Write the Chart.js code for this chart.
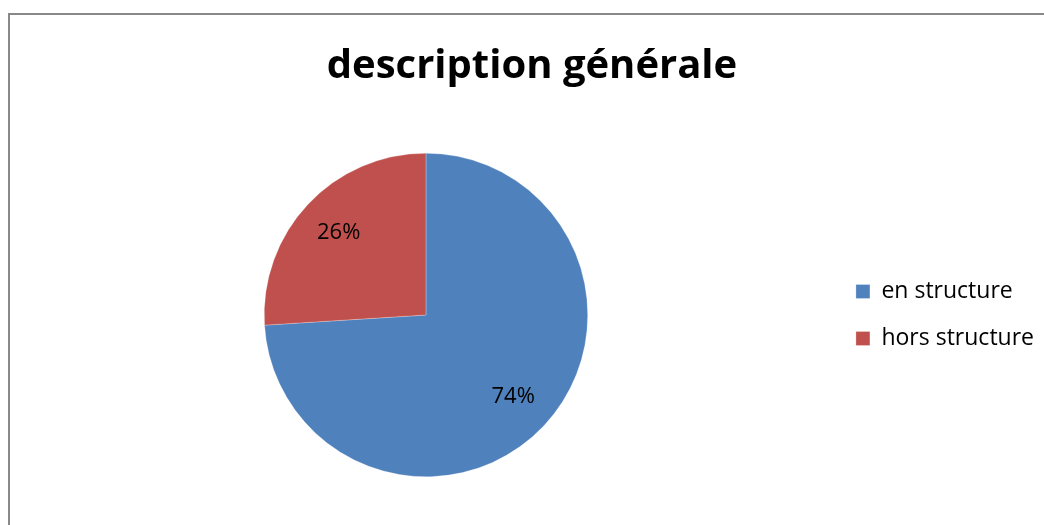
<!DOCTYPE html>
<html>
<head>
<meta charset="utf-8">
<script src="https://cdn.jsdelivr.net/npm/chart.js@4/dist/chart.umd.min.js"></script>
<style>
  html, body { margin: 0; padding: 0; background: #fff; overflow: hidden; }
  #frame {
    position: absolute; left: 8px; top: 13px; width: 1100px; height: 600px;
    border-left: 2px solid #888; border-top: 2px solid #888;
  }
  #wrap { position: absolute; left: 10px; top: 15px; width: 1050px; height: 510px; }
</style>
</head>
<body>
<div id="frame"></div>
<div id="wrap"><canvas id="chart"></canvas></div>
<script>
var categories = ["en structure", "hors structure"];
var values = [74, 26];
var sliceColors = ["#4F81BD", "#C0504D"];
var chartTitle = "description générale";

var fontFamily = "'Open Sans', 'Noto Sans', sans-serif";

// pourcentages dans les parts, comme Excel
var sliceLabels = {
  id: "sliceLabels",
  afterDatasetsDraw: function (chart) {
    var ctx = chart.ctx;
    var meta = chart.getDatasetMeta(0);
    var total = values.reduce(function (a, b) { return a + b; }, 0);
    ctx.save();
    ctx.fillStyle = "#000";
    ctx.font = "22px " + fontFamily;
    ctx.textAlign = "center";
    ctx.textBaseline = "middle";
    meta.data.forEach(function (arc, i) {
      var p = arc.getProps(["x", "y", "startAngle", "endAngle", "outerRadius"], true);
      var mid = (p.startAngle + p.endAngle) / 2;
      var r = p.outerRadius * 0.74;
      var pct = Math.round(values[i] / total * 100) + "%";
      ctx.fillText(pct, p.x + Math.cos(mid) * r, p.y + Math.sin(mid) * r);
    });
    ctx.restore();
  }
};

new Chart(document.getElementById("chart"), {
  type: "pie",
  data: {
    labels: categories,
    datasets: [{
      data: values,
      backgroundColor: sliceColors,
      borderColor: "rgba(255,255,255,0.5)",
      borderWidth: 0.5
    }]
  },
  options: {
    responsive: true,
    maintainAspectRatio: false,
    animation: false,
    layout: { padding: { left: 10, right: 16, top: 0, bottom: 48 } },
    plugins: {
      title: {
        display: true,
        text: chartTitle,
        color: "#000",
        font: { family: fontFamily, size: 40, weight: "bold", lineHeight: 1.2 },
        padding: { top: 28, bottom: 62 }
      },
      legend: {
        position: "right",
        fullSize: false,
        maxWidth: 220,
        labels: {
          color: "#000",
          font: { family: fontFamily, size: 23 },
          boxWidth: 14,
          boxHeight: 14,
          padding: 24
        }
      },
      tooltip: { enabled: false }
    }
  },
  plugins: [sliceLabels]
});
</script>
</body>
</html>
